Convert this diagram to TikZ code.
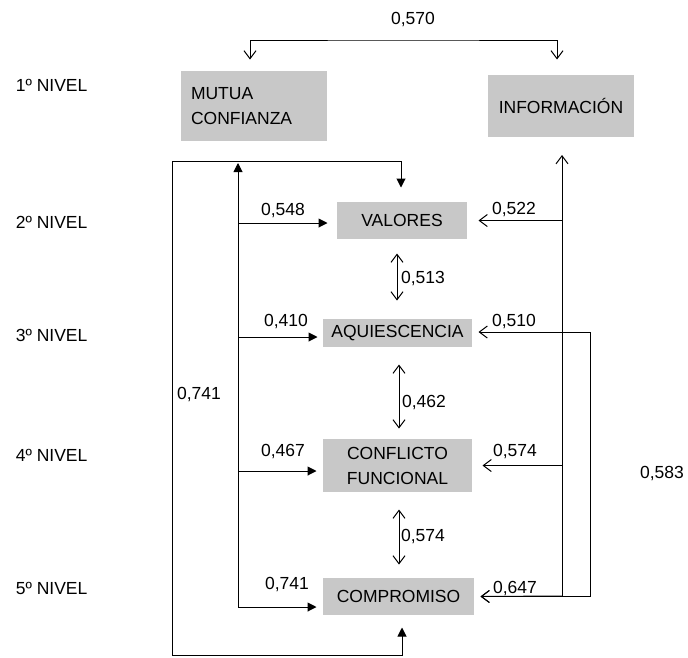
\documentclass[tikz,border=0pt]{standalone}
\usepackage{fontspec}
\setmainfont{Liberation Sans}
\usetikzlibrary{arrows.meta}

\definecolor{boxgray}{RGB}{200,200,200}

\tikzset{
    box/.style={fill=boxgray, inner sep=0pt, align=center},
    num/.style={inner sep=0pt, text depth=0pt},
    fwd/.style={-{Triangle[length=9pt,width=9pt]}},
    fwdboth/.style={{Triangle[length=9pt,width=9pt]}-{Triangle[length=9pt,width=9pt]}},
    bar/.style={-{Straight Barb[length=8pt,width=12pt]}},
    barboth/.style={{Straight Barb[length=8pt,width=12pt]}-{Straight Barb[length=8pt,width=12pt]}},
}

\begin{document}
\begin{tikzpicture}[x=1pt, y=-1pt, line width=1pt,
    font=\fontsize{17.5}{25}\selectfont]
    \useasboundingbox (0,0) rectangle (688,657);

    % levels
    \node[anchor=west] (n1) at (12,85) {1º NIVEL};
    \node[anchor=west] (n2) at (12,222) {2º NIVEL};
    \node[anchor=west] (n3) at (12,335) {3º NIVEL};
    \node[anchor=west] (n4) at (12,455) {4º NIVEL};
    \node[anchor=west] (n5) at (12,588) {5º NIVEL};

    % boxes
    \node[box, minimum width=146pt, minimum height=70pt, text width=126pt, align=left]
        (mc) at (254,106) {MUTUA\\CONFIANZA};
    \node[box, minimum width=146pt, minimum height=62pt] (inf) at (561,106) {INFORMACIÓN};
    \node[box, minimum width=130pt, minimum height=37pt] (val) at (402,220.5) {VALORES};
    \node[box, minimum width=149pt, minimum height=28pt] (aqu) at (397.5,333) {AQUIESCENCIA};
    \node[box, minimum width=149pt, minimum height=53pt] (cf) at (397.5,465.5) {CONFLICTO\\FUNCIONAL};
    \node[box, minimum width=151pt, minimum height=37pt] (com) at (398.5,596.5) {COMPROMISO};

    % trunks and loops
    \coordinate (ttop) at (403,40);
    \coordinate (ltop) at (238,163);
    \coordinate (lbot) at (238,607);
    \coordinate (rtop) at (562,155);
    \coordinate (rbot) at (562,596);
    \coordinate (rloop) at (590,332);
    \coordinate (lloop) at (172,655);

    \draw[barboth] ([shift={(-4pt,11pt)}]mc.north) |- (ttop) -| ([shift={(-4pt,15pt)}]inf.north);

    \draw[fwd] (lbot) -- (ltop);
    \draw[fwd] (lbot) |- ([shift={(-9pt,-2.5pt)}]val.west);
    \draw[fwd] (lbot) |- ([shift={(-5pt,-4pt)}]aqu.west);
    \draw[fwd] (lbot) |- ([shift={(-6pt,-5.5pt)}]cf.west);
    \draw[fwd] (lbot) -- ([shift={(-6pt,-10.5pt)}]com.west);

    \draw[bar] (rbot) -- (rtop);
    \draw[bar] (rbot) |- ([xshift=11pt]val.east);
    \draw[bar] (rbot) |- ([xshift=10pt]cf.east);
    \draw[bar] (rbot) -- ([xshift=6pt]com.east);
    \draw[barboth] ([shift={(6pt,1pt)}]aqu.east) -- (rloop) |- ([xshift=6pt]com.east);

    \draw[fwdboth] ([shift={(-1pt,14pt)}]val.north) -- ++(0,-26) -| (lloop)
        -| ([shift={(3.5pt,-12pt)}]com.south);

    \draw[barboth] ([shift={(-5pt,-14pt)}]val.south) -- ([shift={(-0.5pt,18pt)}]aqu.north);
    \draw[barboth] ([shift={(1.5pt,-17pt)}]aqu.south) -- ([shift={(1.5pt,10pt)}]cf.north);
    \draw[barboth] ([shift={(1.5pt,-17pt)}]cf.south) -- ([shift={(0.5pt,13pt)}]com.north);

    % values
    \node[num] (v570) at (413,18) {0,570};
    \node[num] (v548) at (283,209) {0,548};
    \node[num] (v410) at (286,320) {0,410};
    \node[num] (v467) at (283,450) {0,467};
    \node[num] (v741a) at (287,583) {0,741};
    \node[num] (v741b) at (199,393) {0,741};
    \node[num] (v522) at (514,208) {0,522};
    \node[num] (v510) at (514,320) {0,510};
    \node[num] (v574a) at (515,450) {0,574};
    \node[num] (v647) at (515,587) {0,647};
    \node[num] (v513) at (423,277) {0,513};
    \node[num] (v462) at (424,401) {0,462};
    \node[num] (v574b) at (423,535) {0,574};
    \node[num] (v583) at (662,472) {0,583};
\end{tikzpicture}
\end{document}
